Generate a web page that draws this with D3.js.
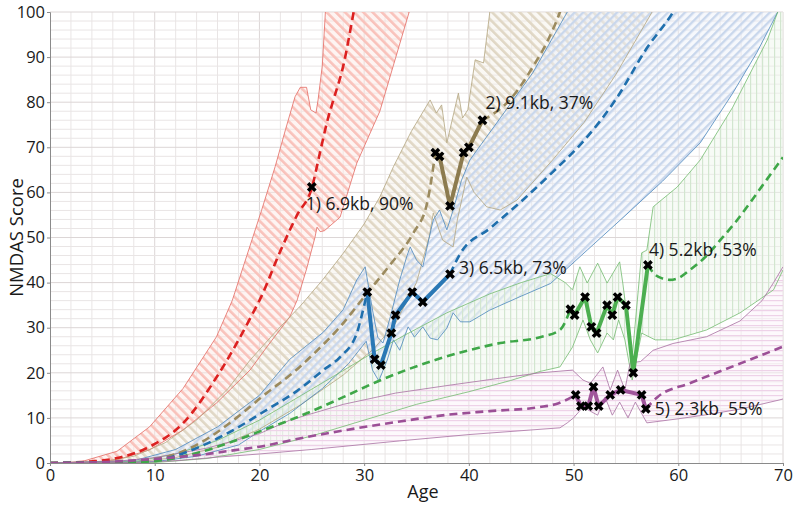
<!DOCTYPE html>
<html><head><meta charset="utf-8">
<script src="https://cdn.jsdelivr.net/npm/d3@7"></script>
<style>body{margin:0;background:#fff}svg{display:block}text{font-family:"Open Sans",sans-serif;fill:#1a1a1a}</style>
</head><body><svg id="c" width="800" height="505"></svg>
<script>
const xTicks=[0,10,20,30,40,50,60,70];
const yTicks=[0,10,20,30,40,50,60,70,80,90,100];
const labels=["1) 6.9kb, 90%","2) 9.1kb, 37%","3) 6.5kb, 73%","4) 5.2kb, 53%","5) 2.3kb, 55%"];

const red_mean=[[0,0],[3,0.2],[6.4,1.1],[9.5,3.6],[12.7,8.8],[15.9,19],[19.1,32],[20.2,37],[22,47],[23.6,55],[25,61],[25.8,69],[26.5,76],[27,80],[28,88],[29,100],[29.4,105]];
const red_upper=[[0,0],[3,0.3],[6.4,2.6],[9.5,8],[12.7,16.5],[15.9,28],[17.4,36],[18.8,46],[20.2,56],[21.5,65.7],[22.5,74],[23.4,81.2],[23.9,83.3],[24.5,83.3],[24.9,78.3],[25.4,77.6],[25.6,80.5],[26,88],[26.3,100],[26.5,104]];
const red_lower=[[0,0],[4,0.2],[6.4,0.7],[9.5,2.9],[12.7,7.3],[15.9,13.3],[19.1,20.6],[20.7,25.7],[22.9,32.4],[23.6,36.1],[24.5,43],[25.3,50],[25.5,52.3],[25.8,51.3],[26.2,51.5],[27.7,54.5],[28.7,62],[29.3,66.5],[31.5,78],[34.3,100],[34.8,104]];
const red_obs=[[25,61.2]];

const brown_mean_a=[[0,0],[6,0.1],[9,0.6],[11.2,1.4],[14.3,4.4],[17.8,10],[20.3,14.8],[23.6,20.8],[25,23.8],[27.7,30.2],[30.3,37.7],[32.5,44],[34.7,51],[36,57.5],[36.8,68.8]];
const brown_mean_b=[[41.3,76],[43.9,80.5],[44.6,82.5],[46.1,87.8],[47.5,93.5],[48.7,100],[49,102]];
const brown_upper=[[0,0],[5,0.3],[8,1.5],[11,4.5],[14,9.5],[17,16.5],[19.1,22.8],[21.5,29],[23.9,34.8],[26,40.5],[28,46.5],[30,53],[31.5,59],[32.8,65.7],[34.5,73.5],[36.3,80.5],[36.9,77.6],[37.4,79.4],[37.9,71],[39,82],[39.4,76.5],[39.9,78.3],[40.6,89.4],[41.4,88.7],[42,100],[42.3,104]];
const brown_lower=[[0,0],[8,0.2],[12,1.2],[16,3.5],[20,7.5],[24,13],[28,19.5],[31,25.5],[33,31],[35,40],[36.2,50],[36.6,55.4],[37.5,49.4],[38.5,47.9],[38.9,53.9],[39.8,63.4],[40.5,60],[41.7,56.8],[43,56.1],[44.6,58.3],[48,67.2],[51,75.5],[54,86],[57.5,100],[58,102]];
const brown_obs=[[36.8,68.8],[37.2,68.0],[38.2,57.0],[39.5,68.8],[40.0,70.0],[41.3,76.0]];

const blue_mean_a=[[0,0],[8,0.3],[11.2,1.1],[14.3,3.6],[17.5,7.3],[20.7,11.8],[23.6,16],[26.1,20.6],[27.7,23.5],[29.3,28.8],[29.8,33],[30.3,37.9]];
const blue_mean_b=[[38.2,41.9],[39.2,46.5],[42,52],[45,58],[48,64.5],[51,71.5],[54,80.5],[57,92],[59.5,100],[60,102]];
const blue_upper=[[0,0],[8,0.5],[12,3],[16,8],[20,15],[22.9,23],[26.1,29],[28,34],[29.3,40.6],[30.1,43.5],[30.8,33.9],[31.3,27.9],[31.8,26.6],[32.5,32.4],[33.4,40.6],[34.1,46],[34.4,47.9],[35,45],[35.6,43.5],[36.1,48.8],[36.6,53.9],[37.2,56.1],[37.9,51.7],[38.5,56.1],[39.3,62.7],[40.1,67.2],[43,76.5],[46.1,86.5],[49.4,100],[49.8,102]];
const blue_lower=[[0,0],[10,0.3],[14,1.5],[18,4],[20,7],[22.9,11],[26,16.5],[28.5,22],[30.2,27],[30.8,20.6],[31.4,18.2],[32.2,22.8],[32.8,27.3],[33.4,25],[34.2,30.2],[34.8,27.9],[35.6,30.2],[36.3,27.7],[37,27.3],[37.9,29.9],[38.5,33.3],[39.2,31.3],[40.1,31.3],[42,33.9],[45,37],[47.8,39.8],[51.3,47.2],[55,55],[58.5,62.5],[62.1,71],[65.2,82],[67.5,91],[69.5,100],[70,102]];
const blue_obs=[[30.3,37.9],[31.0,23.0],[31.6,21.7],[32.6,28.8],[33.0,32.8],[34.6,37.9],[35.6,35.7],[38.2,41.9]];

const green_mean_a=[[0,0],[8,0.2],[11.2,0.8],[14.3,2.4],[17.5,4.8],[20.7,7.6],[22.9,9.5],[25,11.5],[28,14.6],[31,17.8],[34,20.6],[37,23],[40,25],[43,26.6],[46.8,27.9],[48.7,29.5],[49.7,34.1]];
const green_mean_b=[[57.1,43.9],[57.6,42.2],[58.5,40.9],[59.2,40.6],[60,41],[61.1,42.8],[62.5,45.5],[64,49.4],[65.5,53.5],[67.1,58.5],[68.5,63],[70,67.8]];
const green_upper=[[0,0],[8,0.3],[12,2],[16,5],[20,9.5],[24,15],[28,20.5],[30.8,24.4],[34,28.5],[37.9,33.3],[42,37.5],[45,40],[47.8,42],[49.2,40],[49.9,38.4],[50.6,43.5],[51.3,39.9],[52.3,44.3],[53.2,39.9],[54.4,44.6],[54.7,39.9],[55.6,23.5],[56.5,46.6],[57,47.2],[57.6,56.8],[59.9,61.2],[62.1,67.2],[65.2,78.9],[68.5,93.8],[69.5,100],[70,103]];
const green_lower=[[0,0],[10,0.1],[15,1],[20,3],[25,6],[30,9.5],[35,13],[40,15.8],[44,18.3],[46.8,20.3],[48.7,21.3],[49.9,25.7],[50.9,31.7],[51.6,27.3],[52.3,24.4],[53.2,28.8],[53.8,27.3],[54.3,31.7],[54.9,27.3],[55.6,18.4],[56.5,28.8],[57.8,27.3],[59.5,27.3],[62.7,29.5],[65.9,33.3],[69.1,38.4],[70,42.8]];
const green_obs=[[49.7,34.1],[50.1,32.8],[51.1,36.8],[51.7,30.2],[52.2,28.8],[53.2,35.0],[53.7,32.8],[54.2,36.8],[55.0,35.0],[55.7,20.0],[57.1,43.9]];

const purple_mean_a=[[0,0],[5,0.2],[10,0.9],[14.3,1.8],[17.5,2.8],[20.7,3.9],[22.9,5],[28,7.2],[33.4,9.2],[38,10.7],[42,11.5],[46.8,12.4],[48.5,13.2],[50.2,15.1]];
const purple_mean_b=[[56.9,12],[58,14.6],[61.1,17.7],[64.3,20.6],[67.5,23.5],[70,25.8]];
const purple_upper=[[0,0],[6,0.3],[10,1.2],[15,3.3],[20,6.5],[22.9,9.5],[28,13],[33,15.5],[38,17.2],[42,18.5],[46.8,20],[49.9,20.6],[50.9,18.4],[51.6,17.7],[52.8,21.3],[53.5,16.2],[54.2,20.6],[54.9,16.2],[55.4,22.2],[56.4,22.5],[57.6,25],[59.5,26.5],[62.7,28],[65.9,31.5],[68,36],[69.1,40],[70,43.5]];
const purple_lower=[[0,0],[8,0.1],[12,0.5],[16,1.3],[20,2],[25,3],[33.4,4.9],[40,6.3],[48.7,7.8],[49.4,8.9],[50,10],[50.9,12.4],[52.3,10.6],[53,14.6],[53.7,10.6],[54.4,13.5],[55.2,10],[55.9,13.5],[57,8.9],[60,9.8],[63,10.8],[66,12],[69.7,14],[70,14.2]];
const purple_obs=[[50.2,15.1],[50.7,12.6],[51.4,12.6],[51.9,16.9],[52.4,12.6],[53.5,15.1],[54.5,16.2],[56.5,15.1],[56.9,12.0]];

const series=[
 {id:"red",mean:[red_mean],upper:red_upper,lower:red_lower,obs:red_obs,line:"#d62a26",dash:"#dc2020",edge:"#e36a62",hatch:"#f9c2bb",bg:"#fde6e3",rot:-45,sw:2.6,w:6.5,lab:[-6,17]},
 {id:"brown",mean:[brown_mean_a,brown_mean_b],upper:brown_upper,lower:brown_lower,obs:brown_obs,line:"#8c7b4f",dash:"#9b8a5e",edge:"#b3a47f",hatch:"#e0d7c5",bg:"#f3efe6",rot:-45,sw:2.6,w:6.5,lab:[3,-17]},
 {id:"blue",mean:[blue_mean_a,blue_mean_b],upper:blue_upper,lower:blue_lower,obs:blue_obs,line:"#2a78b5",dash:"#1f6fad",edge:"#4a86bd",hatch:"#c9d7ec",bg:"#eaf0f8",rot:45,sw:2.4,w:6,lab:[9,-6]},
 {id:"green",mean:[green_mean_a,green_mean_b],upper:green_upper,lower:green_lower,obs:green_obs,line:"#4caf50",dash:"#3ea748",edge:"#73bb70",hatch:"#d2e6cf",bg:"#eef6ec",rot:0,sw:1.2,w:6,lab:[1,-15]},
 {id:"purple",mean:[purple_mean_a,purple_mean_b],upper:purple_upper,lower:purple_lower,obs:purple_obs,line:"#a0559b",dash:"#9b4f96",edge:"#a870a2",hatch:"#eed2e8",bg:"#fbf1f8",rot:90,sw:1.2,w:5,lab:[9,0]}
];

const svg=d3.select("#c");
const x=d3.scaleLinear().domain([0,70]).range([50,783]);
const y=d3.scaleLinear().domain([0,100]).range([463,12]);

const defs=svg.append("defs");
defs.append("clipPath").attr("id","clip").append("rect").attr("x",x(0)).attr("y",y(100)).attr("width",x(70)-x(0)).attr("height",y(0)-y(100));
series.forEach(s=>{
  const p=defs.append("pattern").attr("id","h-"+s.id).attr("patternUnits","userSpaceOnUse")
    .attr("width",s.w).attr("height",s.w).attr("patternTransform",`rotate(${s.rot})`);
  p.append("rect").attr("x",0).attr("width",s.sw).attr("height",s.w).attr("fill",s.hatch);
});

// grid
const g=svg.append("g");
g.selectAll("line.v").data(d3.range(2,71,2)).join("line").attr("x1",d=>x(d)).attr("x2",d=>x(d)).attr("y1",y(0)).attr("y2",y(100))
 .attr("stroke",d=>d%10===0?"#dcd6d6":"#e9e5e5").attr("stroke-width",1);
g.selectAll("line.h").data(d3.range(2,101,2)).join("line").attr("y1",d=>y(d)).attr("y2",d=>y(d)).attr("x1",x(0)).attr("x2",x(70))
 .attr("stroke",d=>d%10===0?"#dcd6d6":"#e9e5e5").attr("stroke-width",1);

const plot=svg.append("g").attr("clip-path","url(#clip)");
const ln=d3.line().x(d=>x(d[0])).y(d=>y(d[1]));

series.forEach(s=>{
  const poly=s.upper.concat(s.lower.slice().reverse());
  plot.append("path").attr("d",ln(poly)+"Z").attr("fill",s.bg).attr("fill-opacity",0.45).attr("stroke","none");
  plot.append("path").attr("d",ln(poly)+"Z").attr("fill",`url(#h-${s.id})`).attr("stroke","none");
});
series.forEach(s=>{
  [s.upper,s.lower].forEach(e=>plot.append("path").attr("d",ln(e)).attr("fill","none").attr("stroke",s.edge).attr("stroke-width",0.8));
});
series.forEach(s=>{
  s.mean.forEach(m=>plot.append("path").attr("d",d3.line().x(d=>x(d[0])).y(d=>y(d[1])).curve(d3.curveMonotoneX)(m))
    .attr("fill","none").attr("stroke",s.dash).attr("stroke-width",2.6).attr("stroke-dasharray","8,5"));
});
series.forEach(s=>{
  if(s.obs.length>1) plot.append("path").attr("d",ln(s.obs)).attr("fill","none").attr("stroke",s.line).attr("stroke-width",4).attr("stroke-linejoin","round");
});
const sym=d3.symbol().type(d3.symbolCross).size(60);
series.forEach(s=>{
  plot.selectAll(null).data(s.obs).join("path").attr("d",sym)
   .attr("transform",d=>`translate(${x(d[0])},${y(d[1])}) rotate(45)`).attr("fill","#000");
});

// axes
const ax=svg.append("g").attr("transform",`translate(0,${y(0)})`).call(d3.axisBottom(x).tickValues(xTicks).tickSize(3).tickPadding(3));
const ay=svg.append("g").attr("transform",`translate(${x(0)},0)`).call(d3.axisLeft(y).tickValues(yTicks).tickSize(3).tickPadding(2));
[ax,ay].forEach(a=>{a.selectAll("path,line").attr("stroke","#8a8a8a");a.selectAll("text").attr("font-size",16.5).attr("font-family","Open Sans").attr("fill","#1a1a1a");});

// labels
series.forEach((s,i)=>{
  const last=s.obs[s.obs.length-1];
  svg.append("text").attr("x",x(last[0])+s.lab[0]).attr("y",y(last[1])+s.lab[1]).attr("dy","0.35em")
   .attr("font-size",17.5).text(labels[i]);
});
svg.append("text").attr("x",423).attr("y",492).attr("dy","0.35em").attr("text-anchor","middle").attr("font-size",18).text("Age");
svg.append("text").attr("transform",`translate(17,${(y(0)+y(100))/2}) rotate(-90)`).attr("dy","0.35em").attr("text-anchor","middle").attr("font-size",18.5).text("NMDAS Score");
</script></body></html>
